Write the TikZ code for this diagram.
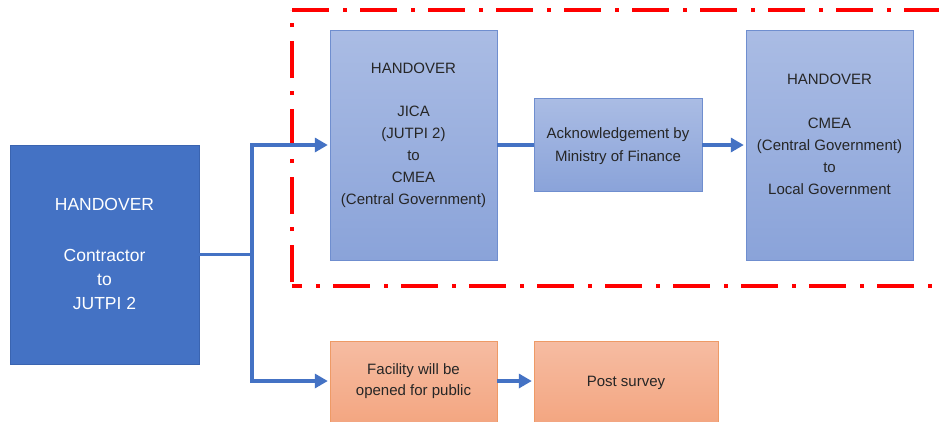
\documentclass[tikz,border=0pt]{standalone}
\usepackage{fontspec}
\setmainfont{Liberation Sans}
\usepackage{xcolor}
\usetikzlibrary{arrows.meta}

\definecolor{deepblue}{HTML}{4472C4}
\definecolor{deepedge}{HTML}{3A64B0}
\definecolor{paletop}{HTML}{AABCE4}
\definecolor{palebot}{HTML}{8AA3D9}
\definecolor{paleedge}{HTML}{6F8ECF}
\definecolor{peachtop}{HTML}{F6BCA2}
\definecolor{peachbot}{HTML}{F3A47E}
\definecolor{peachedge}{HTML}{EE9A66}
\definecolor{inktext}{HTML}{262626}

\begin{document}
\begin{tikzpicture}[x=1pt,y=-1pt,
  darkbox/.style={rectangle,draw=deepedge,fill=deepblue,inner sep=0pt},
  palebox/.style={rectangle,draw=paleedge,top color=paletop,bottom color=palebot,inner sep=0pt},
  peachbox/.style={rectangle,draw=peachedge,top color=peachtop,bottom color=peachbot,inner sep=0pt},
  boxtext/.style={align=center,text=inktext,font=\fontsize{15}{22}\selectfont},
  conn/.style={draw=deepblue,line width=3.8pt},
  arrconn/.style={conn,-{Triangle[length=13pt,width=14pt]}},
  redframe/.style={draw=red,line width=4pt,dash pattern=on 37pt off 14pt on 4pt off 13pt}]
\useasboundingbox (0,0) rectangle (939,421);
\clip (0,0) rectangle (939,421);
\fill[white] (0,0) rectangle (939,421);

% red frame round the ministry part
\draw[redframe] (292,10) -- (985,10);
\draw[redframe,dash phase=64pt] (292,286) -- (292,10);
\draw[redframe,dash phase=27pt] (292,286) -- (985,286);

% boxes
\node[darkbox,minimum width=189pt,minimum height=219pt] (handover) at (104.5,254.5) {};
\node[align=center,text=white,font=\fontsize{17.5}{24}\selectfont] (handovertxt) at ([yshift=1pt]handover.center)
  {HANDOVER\\[27pt]Contractor\\to\\JUTPI 2};

\node[palebox,minimum width=167pt,minimum height=230pt] (jica) at (413.5,145) {};
\node[boxtext] (jicatxt) at ([yshift=9.5pt]jica.center)
  {HANDOVER\\[21pt]JICA\\(JUTPI 2)\\to\\CMEA\\(Central Government)};

\node[palebox,minimum width=168pt,minimum height=93pt] (ack) at (618,145) {};
\node[boxtext,font=\fontsize{15}{23}\selectfont] (acktxt) at ([yshift=-1pt]ack.center)
  {Acknowledgement by\\Ministry of Finance};

\node[palebox,minimum width=167pt,minimum height=230pt] (cmea) at (829.5,145) {};
\node[boxtext] (cmeatxt) at ([yshift=11pt]cmea.center)
  {HANDOVER\\[22pt]CMEA\\(Central Government)\\to\\Local Government};

% bottom row runs off the lower edge
\node[peachbox,minimum width=167pt,minimum height=89pt] (facility) at (413.5,385.5) {};
\node[boxtext,font=\fontsize{15}{21}\selectfont] (facilitytxt) at ([yshift=4pt]facility.center)
  {Facility will be\\opened for public};

\node[peachbox,minimum width=184pt,minimum height=89pt] (survey) at (626,385.5) {};
\node[boxtext] (surveytxt) at ([yshift=2.5pt]survey.center) {Post survey};

% connectors
\coordinate (fork) at (252,254.5);
\draw[conn] (handover.east) -- (fork);
\draw[arrconn] ([yshift=-1.9pt]fork) |- ([xshift=-2pt]jica.west);
\draw[arrconn] ([yshift=1.9pt]fork) |- ([xshift=-2pt,yshift=4.5pt]facility.west);
\draw[conn] (jica.east) -- (ack.west);
\draw[arrconn] (ack.east) -- ([xshift=-2pt]cmea.west);
\draw[arrconn] ([yshift=4.5pt]facility.east) -- ([xshift=-2pt,yshift=4.5pt]survey.west);
\end{tikzpicture}
\end{document}
